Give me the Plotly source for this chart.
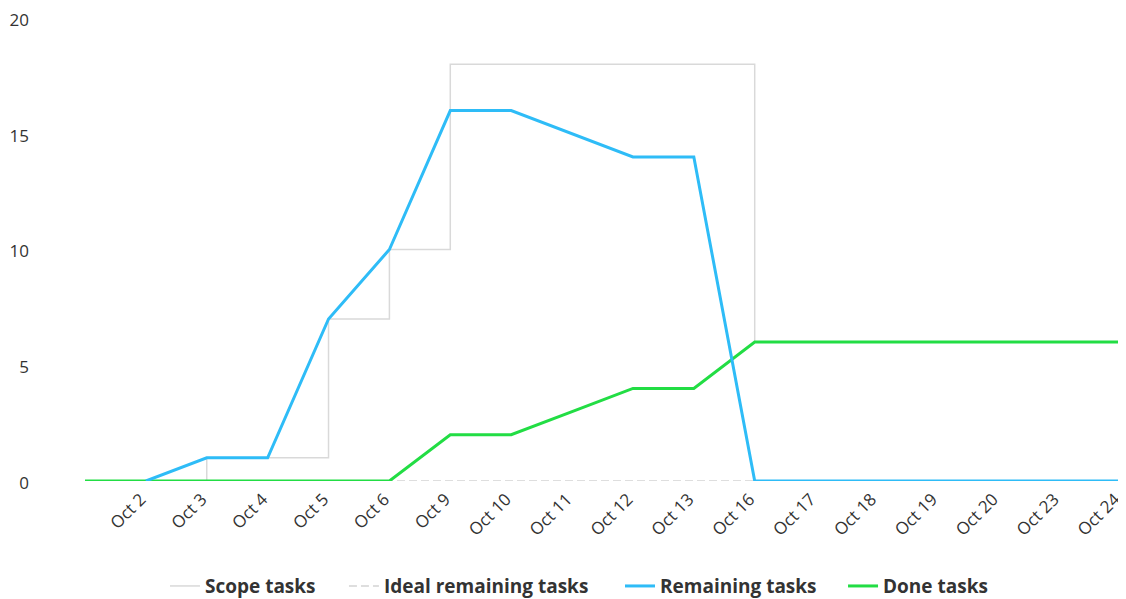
import plotly.graph_objects as go

dates = ["", "Oct 2", "Oct 3", "Oct 4", "Oct 5", "Oct 6", "Oct 9", "Oct 10", "Oct 11",
         "Oct 12", "Oct 13", "Oct 16", "Oct 17", "Oct 18", "Oct 19", "Oct 20", "Oct 23", "Oct 24"]
scope_tasks = [0, 0, 1, 1, 7, 10, 18, 18, 18, 18, 18, 6, 6, 6, 6, 6, 6, 6]
ideal_remaining = [0, 0, 0, 0, 0, 0, 0, 0, 0, 0, 0, 0, 0, 0, 0, 0, 0, 0]
remaining_tasks = [None, 0, 1, 1, 7, 10, 16, 16, 15, 14, 14, 0, 0, 0, 0, 0, 0, 0]
done_tasks = [0, 0, 0, 0, 0, 0, 2, 2, 3, 4, 4, 6, 6, 6, 6, 6, 6, 6]

x = list(range(len(dates)))

fig = go.Figure()
fig.add_trace(go.Scatter(x=x, y=scope_tasks, name="Scope tasks", mode="lines", legend="legend",
                         line=dict(color="#d9d9d9", width=1.5, shape="hv")))
fig.add_trace(go.Scatter(x=x, y=ideal_remaining, name="Ideal remaining tasks", mode="lines",
                         legend="legend2",
                         line=dict(color="#d4d4d4", width=1.5, dash="8px,4px")))
fig.add_trace(go.Scatter(x=x, y=done_tasks, name="Done tasks", mode="lines", legend="legend4",
                         line=dict(color="#22dd44", width=3)))
fig.add_trace(go.Scatter(x=x, y=remaining_tasks, name="Remaining tasks", mode="lines",
                         legend="legend3",
                         line=dict(color="#2ebcf7", width=3)))

for tr in fig.data:
    tr.cliponaxis = False

legend_font = dict(family="Open Sans, sans-serif", size=19, weight="bold", color="#333333")


def leg(xc):
    return dict(orientation="h", xref="container", x=xc, xanchor="left",
                y=-0.227, yanchor="middle", font=legend_font, itemwidth=30,
                bgcolor="rgba(0,0,0,0)")


fig.update_layout(
    width=1118, height=591,
    margin=dict(l=77, r=6, t=10, b=118, autoexpand=False),
    paper_bgcolor="white", plot_bgcolor="white",
    font=dict(family="Open Sans, sans-serif", color="#333333", size=16),
    showlegend=True,
    legend=leg(0.1404),
    legend2=leg(0.3005),
    legend3=leg(0.5474),
    legend4=leg(0.7469),
    xaxis=dict(range=[0, 17], tickmode="array", tickvals=x, ticktext=dates, automargin=False,
               tickangle=-45, showgrid=False, zeroline=False, showline=False, ticks="",
               ticklabeloverflow="allow", ticklabelshift=-5, ticklabelstandoff=4,
               tickfont=dict(size=17, color="#333333")),
    yaxis=dict(range=[0, 20], tickvals=[0, 5, 10, 15, 20], showgrid=False, zeroline=False,
               showline=False, ticks="", ticklabelstandoff=55, automargin=False,
               ticklabeloverflow="allow", ticklabelshift=2,
               tickfont=dict(size=17, color="#333333")),
)

fig.write_html("out.html")
